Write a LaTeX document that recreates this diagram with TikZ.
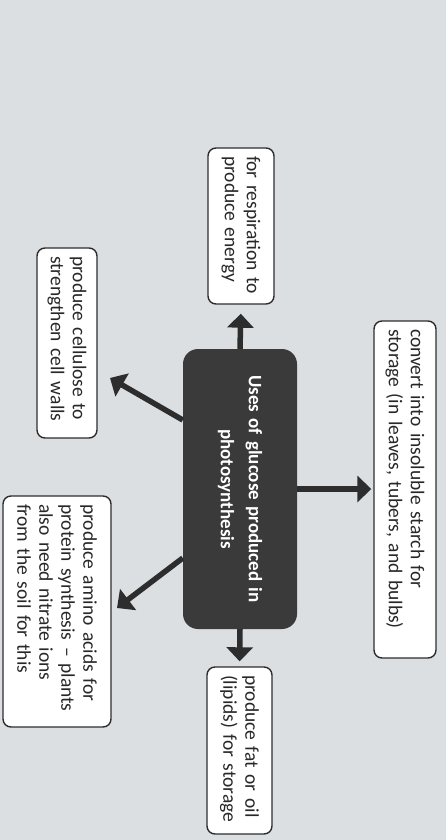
\documentclass[tikz,border=0pt]{standalone}
\usepackage{fontspec}
\setmainfont{Carlito}[WordSpace=0.85]
\usetikzlibrary{arrows.meta,calc}
\hyphenpenalty=10000
\exhyphenpenalty=10000
\definecolor{bg}{RGB}{219,223,226}
\definecolor{dark}{RGB}{58,58,58}
\definecolor{arrc}{RGB}{45,45,45}
\definecolor{boxline}{RGB}{45,45,45}
\definecolor{txt}{RGB}{40,40,40}
\begin{document}
\begin{tikzpicture}[x=1pt,y=-1pt,
  box/.style={draw=boxline, line width=1.4pt, fill=white, rounded corners=8pt,
    rotate=-90, inner xsep=8pt, inner ysep=4pt,
    font=\fontsize{19.5}{22}\selectfont, text=txt, align=left},
  arr/.style={draw=arrc, line width=5.5pt, -{Triangle[width=26pt,length=14pt]}}
]
\useasboundingbox (0,0) rectangle (446,840);
\fill[bg] (0,0) rectangle (446,840);

\node[draw=none, fill=dark, rounded corners=15pt, rotate=-90,
  minimum width=280pt, minimum height=114pt, text width=264pt, align=center,
  font=\bfseries\fontsize{19}{28}\selectfont, text=white] (c) at (240,489)
  {Uses of glucose produced in\\photosynthesis};

\node[box, minimum width=156pt, minimum height=66pt, text width=140pt] (resp) at (241,226)
  {for respiration to\\produce energy};
\node[box, minimum width=337pt, minimum height=62pt, text width=321pt] (starch) at (405,489.5)
  {convert into insoluble starch for\\storage (in leaves, tubers, and bulbs)};
\node[box, minimum width=165pt, minimum height=65pt, text width=151pt] (fat) at (239.5,750.5)
  {produce fat or oil\\(lipids) for storage};
\node[box, minimum width=190pt, minimum height=60pt, text width=174pt] (cell) at (67,343)
  {produce cellulose to\\strengthen cell walls};
\node[box, minimum width=231pt, minimum height=108pt, text width=215pt] (amino) at (57,611.5)
  {produce amino acids for\\protein synthesis -- plants\\also need nitrate ions\\from the soil for this};

\coordinate (ul) at (110,378);
\coordinate (ll) at (117,608);

\draw[arr, shorten >=9pt] (c.west) -- (resp.east);
\draw[arr, shorten >=2pt] (c.north) -- (c.north -| starch.south);
\draw[arr, shorten >=5pt] (c.east) -- (fat.west);
\draw[arr] ($(c.south)+(0,-69)$) -- (ul);
\draw[arr] ($(c.south)+(0,69)$) -- (ll);
\end{tikzpicture}
\end{document}
